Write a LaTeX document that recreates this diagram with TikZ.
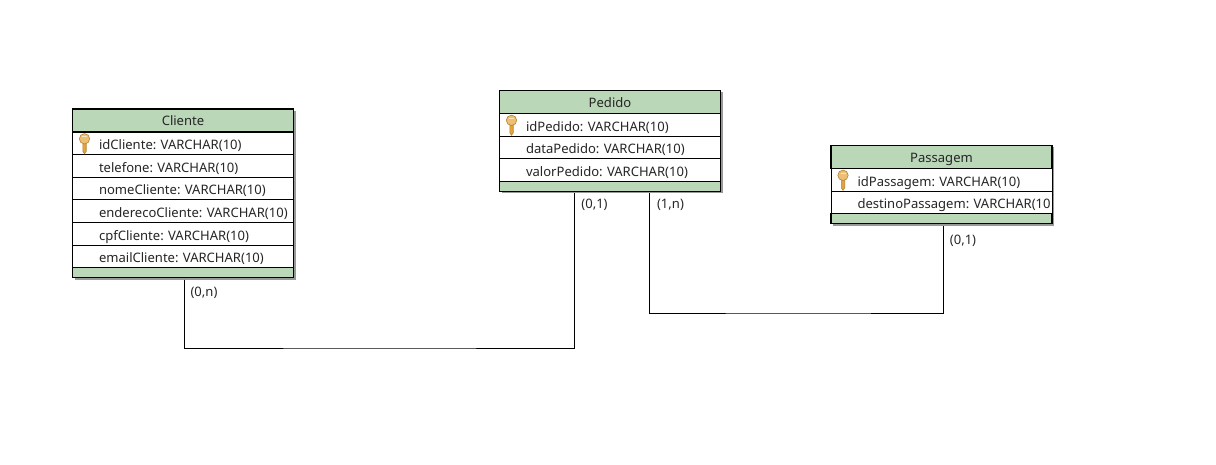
\documentclass[tikz,border=0pt]{standalone}
\usepackage{fontspec}
\setmainfont{Noto Sans}
\usetikzlibrary{positioning,backgrounds}
\definecolor{headgreen}{HTML}{BAD7B8}
\definecolor{keygold}{HTML}{E3A43B}
\tikzset{keyicon/.pic={
    \draw[keygold!80!black, line width=.6pt, fill=keygold] (-1.7,0) -- (-1.7,9) -- (0,11.5) -- (1.7,9) -- (1.7,0) -- cycle;
    \draw[keygold!80!black, line width=.6pt, fill=keygold!70!white] (0,-3.5) circle (5.2);
    \draw[white!70!keygold, line width=1.2pt] (-2.5,-5.5) -- (2.5,-5.5);
}}

\begin{document}
\frenchspacing
\begin{tikzpicture}[x=1pt, y=-1pt, inner sep=0pt, outer sep=0pt, node distance=0pt, text height=10pt, text depth=0pt, font=\fontsize{13.05}{15}\selectfont]
    \tikzstyle{ent}=[rectangle, draw=black, line width=1.3pt, fill=headgreen, minimum width=221pt, minimum height=23pt, text height=11pt, text=black!85]
    \tikzstyle{attr}=[rectangle, draw=black, line width=.9pt, fill=white, text width=221pt, minimum height=22.6pt, text height=13pt, align=left, text=black!85, execute at begin node={\hspace*{26.5pt}}]
    \tikzstyle{foot}=[rectangle, draw=black, line width=1.3pt, fill=headgreen, minimum width=221pt, minimum height=7.5pt]
    \tikzstyle{shade}=[fill=black!40]
    \tikzstyle{rel}=[draw=black, line width=.8pt, shorten <=2pt, shorten >=2pt]
    \tikzstyle{card}=[text=black!85]

    \useasboundingbox (0,0) rectangle (1216,465);

    % Cliente
    \node[ent] (Cliente) at (183,120.5) {Cliente};
    \node[attr] (idCliente) [below=of Cliente] {idCliente: VARCHAR(10)};
    \node[attr] (telefone) [below=of idCliente] {telefone: VARCHAR(10)};
    \node[attr] (nomeCliente) [below=of telefone] {nomeCliente: VARCHAR(10)};
    \node[attr] (enderecoCliente) [below=of nomeCliente] {enderecoCliente: VARCHAR(10)};
    \node[attr] (cpfCliente) [below=of enderecoCliente] {cpfCliente: VARCHAR(10)};
    \node[attr] (emailCliente) [below=of cpfCliente] {emailCliente: VARCHAR(10)};
    \node[foot, minimum height=8.5pt] (ClienteEnd) [below=of emailCliente] {};

    % Pedido
    \node[ent] (Pedido) at (610,102) {Pedido};
    \node[attr] (idPedido) [below=of Pedido] {idPedido: VARCHAR(10)};
    \node[attr] (dataPedido) [below=of idPedido] {dataPedido: VARCHAR(10)};
    \node[attr] (valorPedido) [below=of dataPedido] {valorPedido: VARCHAR(10)};
    \node[foot] (PedidoEnd) [below=of valorPedido] {};

    % Passagem
    \node[ent] (Passagem) at (941.5,157) {Passagem};
    \node[attr] (idPassagem) [below=of Passagem] {idPassagem: VARCHAR(10)};
    \node[attr] (destinoPassagem) [below=of idPassagem] {\mbox{destinoPassagem: VARCHAR(10}};
    \node[foot, minimum height=9pt] (PassagemEnd) [below=of destinoPassagem] {};

    \begin{scope}[on background layer]
        \fill[shade] ([shift={(2pt,-2pt)}]Cliente.north west) rectangle ([shift={(2pt,-2pt)}]ClienteEnd.south east);
        \fill[shade] ([shift={(2pt,-2pt)}]Pedido.north west) rectangle ([shift={(2pt,-2pt)}]PedidoEnd.south east);
        \fill[shade] ([shift={(2pt,-2pt)}]Passagem.north west) rectangle ([shift={(2pt,-2pt)}]PassagemEnd.south east);
    \end{scope}

    \pic at ([xshift=12pt,yshift=1pt] idCliente.west) {keyicon};
    \pic at ([xshift=12pt,yshift=1pt] idPedido.west) {keyicon};
    \pic at ([xshift=12pt,yshift=1pt] idPassagem.west) {keyicon};

    \coordinate (clientePedido) at (380,348);
    \coordinate (pedidoPassagem) at (800,313);

    \draw[rel] ([xshift=1pt] ClienteEnd.south) |- (clientePedido) -| ([xshift=-35.5pt] PedidoEnd.south);
    \draw[rel] ([xshift=39pt] PedidoEnd.south) |- (pedidoPassagem) -| ([xshift=1.5pt] PassagemEnd.south);

    \node[card] (cardCliente) at (204,291) {(0,n)};
    \node[card] (cardPedidoA) at (594.5,204) {(0,1)};
    \node[card] (cardPedidoB) at (670.5,204) {(1,n)};
    \node[card] (cardPassagem) at (963,240) {(0,1)};
\end{tikzpicture}
\end{document}
